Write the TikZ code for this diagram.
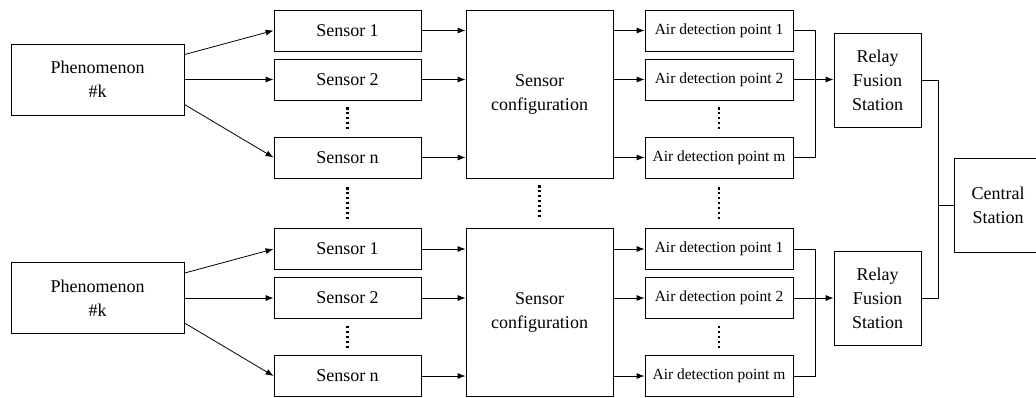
\documentclass[tikz,border=0pt]{standalone}
\usepackage{fontspec}
\setmainfont{Liberation Serif}
\usepackage{tikz}
\tikzstyle{blk} = [draw, rectangle, inner sep=0pt, align=center, font=\fontsize{13.5}{18}\selectfont]
\tikzstyle{phen} = [blk, minimum width=129.75pt, minimum height=53.25pt]
\tikzstyle{sens} = [blk, minimum width=110.25pt, minimum height=30.75pt]
\tikzstyle{conf} = [blk, minimum width=110.25pt, minimum height=126pt]
\tikzstyle{adp} = [blk, minimum width=111pt, minimum height=30.75pt, font=\fontsize{11.6}{14}\selectfont]
\tikzstyle{stat} = [blk, minimum width=65.25pt, minimum height=70.5pt]
\tikzstyle{vdots} = [line width=1.6pt, dash pattern=on 1.6pt off 2.1pt]
\tikzstyle{arr} = [-{Latex[length=6pt,width=4.5pt]}]
\usetikzlibrary{arrows.meta,calc}

\begin{document}
\begin{tikzpicture}[x=0.75pt, y=-0.75pt, semithick]
  \clip (0,0) rectangle (1036,397);
  % upper group
  \node[phen] (phA) at (97.5,79.5) {Phenomenon\\\#k};
  \node[sens] (s1A) at (347.5,30.5) {Sensor 1};
  \node[sens] (s2A) at (347.5,79.5) {Sensor 2};
  \node[sens] (snA) at (347.5,157.5) {Sensor n};
  \node[conf] (cfgA) at (539.5,94) {Sensor\\configuration};
  \node[adp] (a1A) at (719,30.5) {Air detection point 1};
  \node[adp] (a2A) at (719,79.5) {Air detection point 2};
  \node[adp] (amA) at (719,157.5) {Air detection point m};
  \node[stat] (rA) at (877.5,80) {Relay\\Fusion\\Station};

  % lower group
  \node[phen] (phB) at (97.5,298) {Phenomenon\\\#k};
  \node[sens] (s1B) at (347.5,249) {Sensor 1};
  \node[sens] (s2B) at (347.5,298) {Sensor 2};
  \node[sens] (snB) at (347.5,376) {Sensor n};
  \node[conf] (cfgB) at (539.5,312.5) {Sensor\\configuration};
  \node[adp] (a1B) at (719,249) {Air detection point 1};
  \node[adp] (a2B) at (719,298) {Air detection point 2};
  \node[adp] (amB) at (719,376) {Air detection point m};
  \node[stat] (rB) at (877.5,298.5) {Relay\\Fusion\\Station};

  \node[stat, minimum width=66pt] (cs) at (998,205.5) {Central\\Station};

  % arrows, upper group
  \draw[arr] (phA.16) -- (s1A.west);
  \draw[arr] (phA.east) -- (s2A.west);
  \draw[arr] (phA.-16) -- (snA.west);
  \draw[arr] (s1A) -- (s1A -| cfgA.west);
  \draw[arr] (s2A) -- (s2A -| cfgA.west);
  \draw[arr] (snA) -- (snA -| cfgA.west);
  \draw[arr] (cfgA.east |- a1A) -- (a1A);
  \draw[arr] (cfgA.east |- a2A) -- (a2A);
  \draw[arr] (cfgA.east |- amA) -- (amA);
  \draw (a1A.east) -- ++(22,0) |- (amA.east);
  \draw[arr] (a2A.east) -- (a2A.east -| rA.west);

  % arrows, lower group
  \draw[arr] (phB.16) -- (s1B.west);
  \draw[arr] (phB.east) -- (s2B.west);
  \draw[arr] (phB.-16) -- (snB.west);
  \draw[arr] (s1B) -- (s1B -| cfgB.west);
  \draw[arr] (s2B) -- (s2B -| cfgB.west);
  \draw[arr] (snB) -- (snB -| cfgB.west);
  \draw[arr] (cfgB.east |- a1B) -- (a1B);
  \draw[arr] (cfgB.east |- a2B) -- (a2B);
  \draw[arr] (cfgB.east |- amB) -- (amB);
  \draw (a1B.east) -- ++(22,0) |- (amB.east);
  \draw[arr] (a2B.east) -- (a2B.east -| rB.west);

  % relays to central station
  \draw (rA.east) -- ++(17,0) |- (rB.east);
  \draw (cs.west) -- ++(-16,0);

  % dots
  \draw[vdots] ($(s2A.south)+(0,7)$) -- ($(snA.north)+(0,-7)$);
  \draw[vdots] ($(a2A.south)+(0,7)$) -- ($(amA.north)+(0,-7)$);
  \draw[vdots] ($(s2B.south)+(0,7)$) -- ($(snB.north)+(0,-7)$);
  \draw[vdots] ($(a2B.south)+(0,7)$) -- ($(amB.north)+(0,-7)$);
  \draw[vdots] ($(snA.south)+(0,9)$) -- ($(s1B.north)+(0,-7)$);
  \draw[vdots] ($(cfgA.south)+(0,7)$) -- ($(cfgB.north)+(0,-9)$);
  \draw[vdots] ($(amA.south)+(0,9)$) -- ($(a1B.north)+(0,-7)$);
\end{tikzpicture}
\end{document}
